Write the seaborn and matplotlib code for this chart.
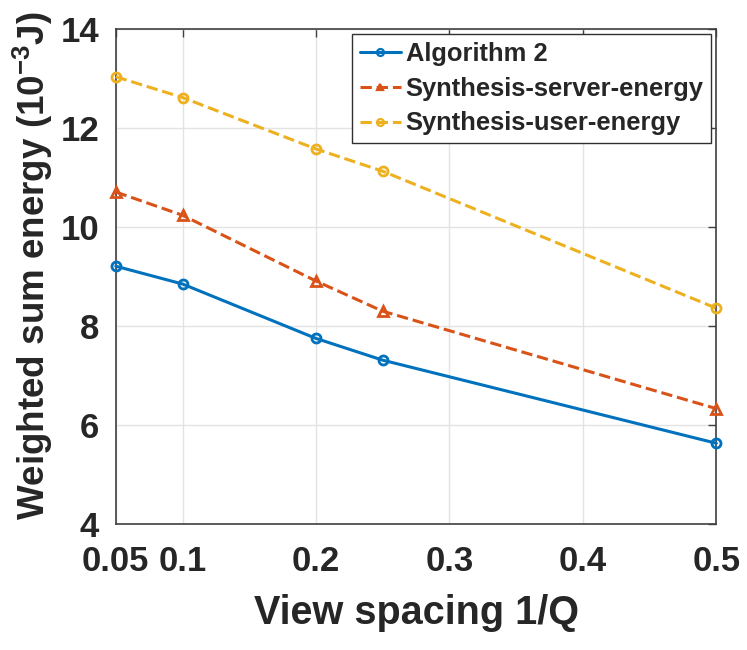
import matplotlib

matplotlib.use("Agg")
import matplotlib.pyplot as plt
import numpy as np
import pandas as pd
import seaborn as sns

# ------------------------------

VIEW_SPACING = [0.05, 0.1, 0.2, 0.25, 0.5]
ALGORITHM_2 = [9.21, 8.85, 7.75, 7.31, 5.63]
SERVER_ENERGY = [10.71, 10.24, 8.91, 8.30, 6.33]
USER_ENERGY = [13.04, 12.62, 11.58, 11.13, 8.36]

SERIES_NAMES = ["Algorithm 2", "Synthesis-server-energy", "Synthesis-user-energy"]
X_TICKS = [0.05, 0.1, 0.2, 0.3, 0.4, 0.5]
X_TICK_LABELS = ["0.05", "0.1", "0.2", "0.3", "0.4", "0.5"]
Y_TICKS = [4, 6, 8, 10, 12, 14]

MATLAB_BLUE = "#0072BD"
MATLAB_ORANGE = "#D95319"
MATLAB_YELLOW = "#EDB120"
DARK = "#262626"

sns.set_style("white")
plt.rcParams["font.family"] = ["Liberation Sans", "DejaVu Sans"]
plt.rcParams["font.weight"] = "bold"
plt.rcParams["mathtext.fontset"] = "custom"
plt.rcParams["mathtext.rm"] = "Liberation Sans:bold"
plt.rcParams["mathtext.bf"] = "Liberation Sans:bold"
plt.rcParams["mathtext.default"] = "rm"

DPI = 100
FIGSIZE = (747 / DPI, 650 / DPI)

# ------------------------------

df = pd.DataFrame(
    {
        "x": VIEW_SPACING * 3,
        "y": ALGORITHM_2 + SERVER_ENERGY + USER_ENERGY,
        "series": [s for s in SERIES_NAMES for _ in VIEW_SPACING],
    }
)

fig = plt.figure(figsize=FIGSIZE, dpi=DPI)
ax = fig.add_axes([0.155, 0.194, 0.804, 0.761])

styles = [
    (MATLAB_BLUE, "-", "o"),
    (MATLAB_ORANGE, "--", "^"),
    (MATLAB_YELLOW, "--", "o"),
]
for name, (color, ls, marker) in zip(SERIES_NAMES, styles):
    sub = df[df["series"] == name]
    sns.lineplot(
        data=sub,
        x="x",
        y="y",
        ax=ax,
        color=color,
        linestyle=ls,
        linewidth=2.2,
        marker=marker,
        markersize=6.5,
        markerfacecolor="none",
        markeredgecolor=color,
        markeredgewidth=2,
        label=name,
        clip_on=False,
        zorder=3,
    )

ax.set_xlim(0.05, 0.5)
ax.set_ylim(4, 14)
ax.set_xticks(X_TICKS)
ax.set_xticklabels(X_TICK_LABELS)
ax.set_yticks(Y_TICKS)
ax.grid(True, color="#e3e3e3", linewidth=1)
ax.set_axisbelow(True)
ax.tick_params(
    axis="both",
    direction="in",
    labelsize=25,
    length=6,
    width=1,
    color="#404040",
    top=True,
    right=True,
)
ax.tick_params(axis="x", pad=15)
ax.tick_params(axis="y", pad=12)
for label in ax.get_xticklabels() + ax.get_yticklabels():
    label.set_fontweight("bold")
    label.set_color(DARK)
for spine in ax.spines.values():
    spine.set_visible(True)
    spine.set_color("#404040")
    spine.set_linewidth(1.2)

ax.set_xlabel("View spacing 1/Q", fontsize=28.5, fontweight="bold", color=DARK, labelpad=12)
ax.set_ylabel(
    "Weighted sum energy (10$^{-3}$J)",
    fontsize=26.5,
    fontweight="bold",
    color=DARK,
)
ax.yaxis.set_label_coords(-0.102, 0.523)

leg = ax.legend(
    loc="upper right",
    fontsize=18.4,
    frameon=True,
    fancybox=False,
    edgecolor="#303030",
    framealpha=1,
    handlelength=1.6,
    handletextpad=0.2,
    borderpad=0.3,
    labelspacing=0.42,
    borderaxespad=0.2,
)
leg.get_frame().set_linewidth(1.0)
for text in leg.get_texts():
    text.set_fontweight("bold")
for line in leg.get_lines():
    line.set_markersize(5)
    line.set_markeredgewidth(1.6)

fig.savefig("out.png", dpi=DPI)
